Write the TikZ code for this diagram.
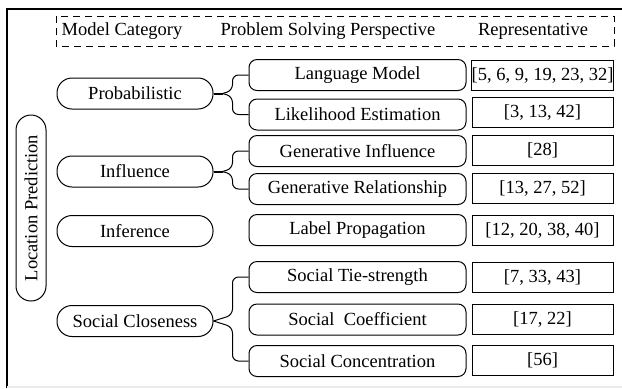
\documentclass[tikz,border=0pt]{standalone}
\usepackage{fontspec}
\setmainfont{Liberation Serif}
\begin{document}
\begin{tikzpicture}[x=0.5pt,y=-0.5pt,
  every node/.style={font=\fontsize{9.25}{11}\selectfont, inner sep=0pt, line width=0.5pt},
  catbox/.style={draw, rounded corners=7.5pt, minimum width=78pt, minimum height=15.5pt},
  perbox/.style={draw, rounded corners=4pt, minimum width=108.5pt, minimum height=15.5pt},
  refbox/.style={draw, minimum width=70.5pt, minimum height=15pt},
  hdr/.style={},
  brace/.style={line width=0.5pt, rounded corners=3pt},
  stem/.style={line width=1pt}]
\useasboundingbox (0,0) rectangle (622,388);
% outer frame
\draw[line width=0.8pt] (7,388) -- (7,9) -- (622,9);
\draw[black!8, line width=0.6pt] (7,387) -- (622,387);
% header
\draw[dash pattern=on 3.5pt off 2.5pt, line width=0.5pt] (56,16) rectangle (614,46);
\node[hdr] (h1) at (122,31) {Model Category};
\node[hdr] (h2) at (328,31) {Problem Solving Perspective};
\node[hdr] (h3) at (533,31) {Representative};
% root
\node[draw, rotate=90, rounded corners=7.5pt, minimum width=93pt, minimum height=15pt] (root) at (31,208) {Location Prediction};
% categories
\node[catbox] (c1) at (135,93.5) {Probabilistic};
\node[catbox] (c2) at (135,171.5) {Influence};
\node[catbox] (c3) at (135,231) {Inference};
\node[catbox] (c4) at (135,321) {Social Closeness};
% perspectives
\node[perbox] (p1) at (357.5,75) {Language Model};
\node[perbox] (p2) at (357.5,114.5) {Likelihood Estimation};
\node[perbox] (p3) at (357.5,151) {Generative Influence};
\node[perbox] (p4) at (357.5,189) {Generative Relationship};
\node[perbox] (p5) at (357.5,230) {Label Propagation};
\node[perbox] (p6) at (357.5,277) {Social Tie-strength};
\node[perbox] (p7) at (357.5,319.5) {Social\ \ Coefficient};
\node[perbox] (p8) at (357.5,361) {Social Concentration};
% references
\node[refbox] (r1) at (542.5,75) {[5, 6, 9, 19, 23, 32]};
\node[refbox] (r2) at (542.5,112) {[3, 13, 42]};
\node[refbox] (r3) at (542.5,150) {[28]};
\node[refbox] (r4) at (542.5,188.5) {[13, 27, 52]};
\node[refbox] (r5) at (542.5,230) {[12, 20, 38, 40]};
\node[refbox] (r6) at (542.5,277) {[7, 33, 43]};
\node[refbox] (r7) at (542.5,319) {[17, 22]};
\node[refbox] (r8) at (542.5,360) {[56]};
% connectors
\draw[stem] (c1.east) -- ++(9,0) coordinate (j1);
\draw[brace] (j1) -- ++(10,-3) |- (p1.west);
\draw[brace] (j1) -- ++(10,3) |- (p2.west);
\draw[stem] (c2.east) -- ++(9,0) coordinate (j2);
\draw[brace] (j2) -- ++(10,-3) |- (p3.west);
\draw[brace] (j2) -- ++(10,3) |- (p4.west);
\coordinate (j4) at (c4.east);
\draw[brace] (j4) -- ++(19,-6) |- (p6.west);
\draw[brace] (j4) -- ++(19,6) |- (p8.west);
\end{tikzpicture}
\end{document}
